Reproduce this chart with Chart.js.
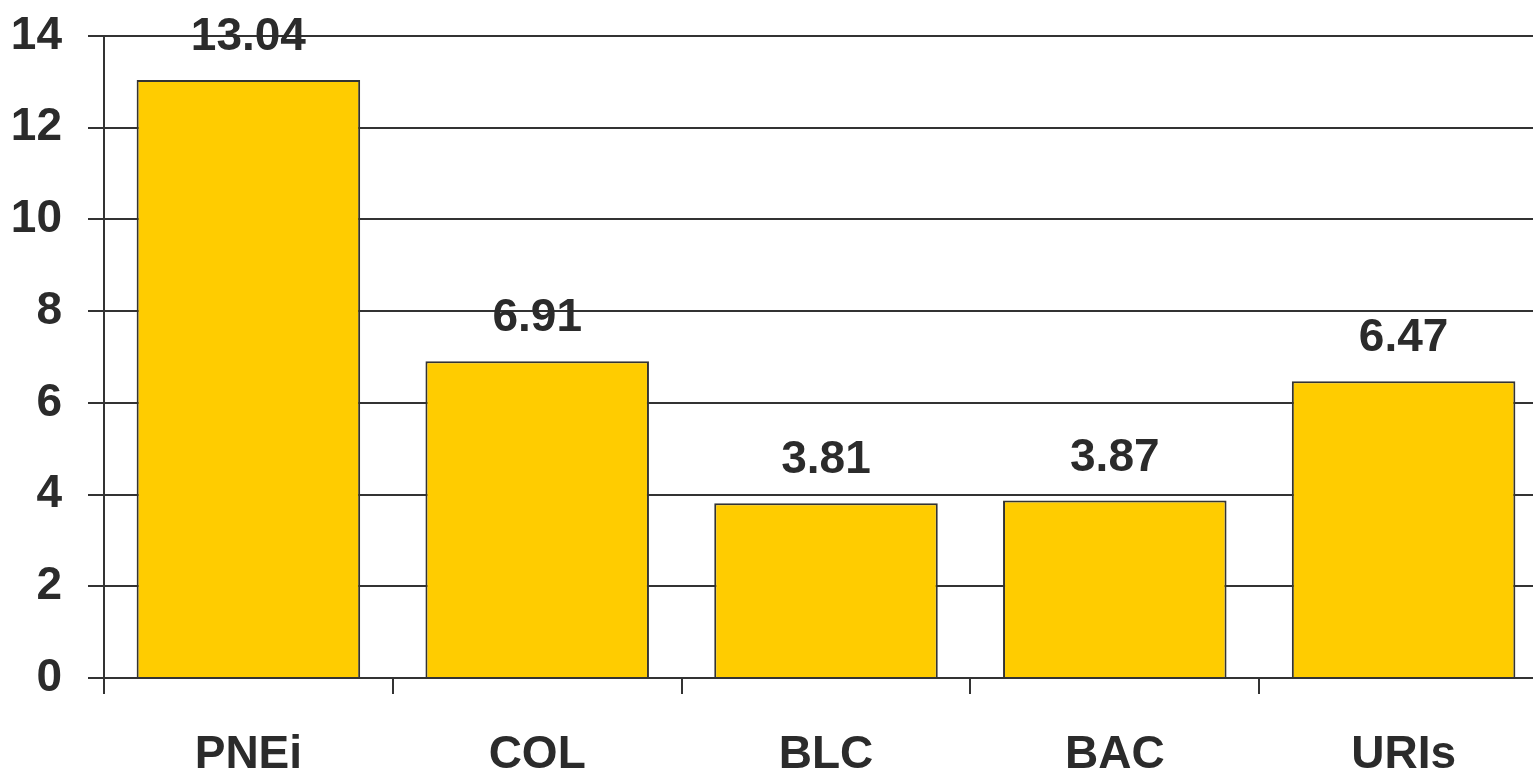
<!DOCTYPE html>
<html lang="en">
<head>
    <meta charset="UTF-8">
    <title>Bar chart</title>
    <script src="https://cdn.jsdelivr.net/npm/chart.js"></script>
    <style>
        html, body { margin: 0; padding: 0; background: #fff; overflow: hidden; }
        #wrap { width: 1548px; height: 773px; }
    </style>
</head>
<body>
    <div id="wrap">
        <canvas id="barChart"></canvas>
    </div>
    <script>
        const categories = ["PNEi", "COL", "BLC", "BAC", "URIs"];
        const values = [13.04, 6.91, 3.81, 3.87, 6.47];
        const yTicks = [0, 2, 4, 6, 8, 10, 12, 14];

        const textColor = "#2b2b2b";
        const lineColor = "#333333";
        const font = { family: "'Liberation Sans', Arial, sans-serif", size: 46, weight: "bold" };

        // draws the numbers above each bar
        const valueLabels = {
            id: "valueLabels",
            afterDatasetsDraw(chart) {
                const ctx = chart.ctx;
                const meta = chart.getDatasetMeta(0);
                ctx.save();
                ctx.font = "bold 46px 'Liberation Sans', Arial, sans-serif";
                ctx.fillStyle = textColor;
                ctx.textAlign = "center";
                ctx.textBaseline = "alphabetic";
                meta.data.forEach((bar, i) => {
                    ctx.fillText(values[i].toFixed(2), bar.x, bar.y - 30);
                });
                ctx.restore();
            }
        };

        new Chart(document.getElementById("barChart"), {
            type: "bar",
            data: {
                labels: categories,
                datasets: [{
                    data: values,
                    backgroundColor: "#FFCC00",
                    borderColor: lineColor,
                    borderWidth: 2,
                    barPercentage: 0.774,
                    categoryPercentage: 1.0
                }]
            },
            options: {
                responsive: true,
                maintainAspectRatio: false,
                animation: false,
                layout: { padding: 0 },
                plugins: {
                    legend: { display: false },
                    tooltip: { enabled: false }
                },
                scales: {
                    x: {
                        afterFit(scale) { scale.height = 95; },
                        grid: {
                            offset: true,
                            drawOnChartArea: false,
                            drawTicks: true,
                            tickLength: 16,
                            color: lineColor,
                            lineWidth: 2
                        },
                        border: { color: lineColor, width: 2 },
                        ticks: { color: textColor, font: font, padding: 34 }
                    },
                    y: {
                        min: 0,
                        max: 14,
                        afterFit(scale) {
                            scale.width = 104;
                            scale.paddingTop = 36;
                        },
                        afterBuildTicks(scale) {
                            scale.ticks = yTicks.map(v => ({ value: v }));
                        },
                        grid: {
                            color: lineColor,
                            lineWidth: 2,
                            tickLength: 16
                        },
                        border: { color: lineColor, width: 2 },
                        ticks: { color: textColor, font: font, padding: 26 }
                    }
                }
            },
            plugins: [valueLabels]
        });
    </script>
</body>
</html>
